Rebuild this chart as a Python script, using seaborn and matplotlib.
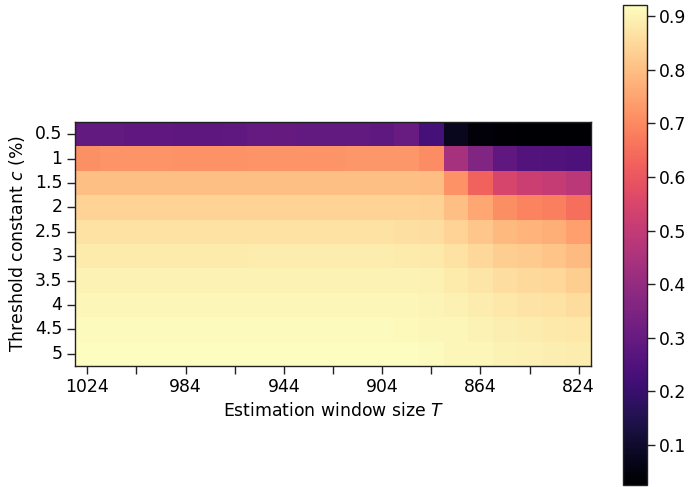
import numpy as np
import pandas as pd
import matplotlib
matplotlib.use("Agg")
import matplotlib.pyplot as plt
import seaborn as sns

# Estimation window sizes (columns) and threshold constants (rows)
window_sizes = [1024, 1014, 1004, 994, 984, 974, 964, 954, 944, 934, 924,
                914, 904, 894, 884, 874, 864, 854, 844, 834, 824]
thresholds = ["0.5", "1", "1.5", "2", "2.5", "3", "3.5", "4", "4.5", "5"]

row_c05 = [0.290, 0.288, 0.285, 0.285, 0.280, 0.278, 0.283, 0.292, 0.295, 0.290,
           0.290, 0.290, 0.282, 0.305, 0.225, 0.075, 0.040, 0.030, 0.026, 0.025, 0.025]
row_c10 = [0.712, 0.720, 0.720, 0.720, 0.718, 0.716, 0.718, 0.720, 0.720, 0.720,
           0.720, 0.722, 0.722, 0.722, 0.705, 0.440, 0.355, 0.285, 0.255, 0.250, 0.245]
row_c15 = [0.800, 0.800, 0.800, 0.800, 0.800, 0.800, 0.800, 0.800, 0.800, 0.800,
           0.800, 0.800, 0.800, 0.800, 0.795, 0.715, 0.625, 0.545, 0.515, 0.505, 0.480]
row_c20 = [0.840, 0.840, 0.840, 0.840, 0.840, 0.840, 0.840, 0.840, 0.840, 0.840,
           0.840, 0.840, 0.840, 0.838, 0.835, 0.800, 0.755, 0.710, 0.690, 0.680, 0.650]
row_c25 = [0.865, 0.865, 0.865, 0.865, 0.865, 0.865, 0.865, 0.866, 0.866, 0.866,
           0.866, 0.866, 0.866, 0.864, 0.860, 0.840, 0.815, 0.790, 0.780, 0.770, 0.740]
row_c30 = [0.885, 0.885, 0.885, 0.885, 0.885, 0.885, 0.885, 0.886, 0.886, 0.886,
           0.886, 0.886, 0.886, 0.884, 0.880, 0.868, 0.850, 0.830, 0.822, 0.812, 0.792]
row_c35 = [0.898, 0.898, 0.898, 0.898, 0.898, 0.898, 0.898, 0.899, 0.899, 0.899,
           0.899, 0.899, 0.899, 0.897, 0.893, 0.885, 0.872, 0.860, 0.852, 0.845, 0.830]
row_c40 = [0.908, 0.908, 0.908, 0.908, 0.908, 0.908, 0.908, 0.909, 0.909, 0.909,
           0.909, 0.909, 0.909, 0.907, 0.903, 0.895, 0.888, 0.876, 0.870, 0.866, 0.858]
row_c45 = [0.914, 0.914, 0.914, 0.914, 0.914, 0.914, 0.914, 0.915, 0.915, 0.915,
           0.915, 0.915, 0.915, 0.913, 0.910, 0.905, 0.898, 0.890, 0.886, 0.882, 0.876]
row_c50 = [0.920, 0.920, 0.920, 0.920, 0.920, 0.920, 0.920, 0.920, 0.920, 0.920,
           0.920, 0.920, 0.920, 0.918, 0.915, 0.910, 0.905, 0.899, 0.895, 0.891, 0.886]

rows = [row_c05, row_c10, row_c15, row_c20, row_c25,
        row_c30, row_c35, row_c40, row_c45, row_c50]
df = pd.DataFrame(rows, index=thresholds, columns=window_sizes)

FS = 12.4
plt.rcParams["font.family"] = ["DejaVu Sans"]
plt.rcParams["font.size"] = FS

fig = plt.figure(figsize=(6.9, 4.87), dpi=100)
ax = fig.add_axes([75 / 690, (487 - 366) / 487, 516 / 690, 244 / 487])
cax = fig.add_axes([622.5 / 690, 2 / 487, 24 / 690, 480 / 487])

sns.heatmap(df, ax=ax, cbar_ax=cax, cmap="magma", vmin=0.025, vmax=0.921,
            xticklabels=False, yticklabels=False)

# axes frame
for sp in ax.spines.values():
    sp.set_visible(True)
    sp.set_linewidth(1.0)
    sp.set_color("#222222")

xt = np.arange(0, len(window_sizes), 2) + 0.5
ax.set_xticks(xt)
ax.set_xticklabels([str(window_sizes[i]) if i % 4 == 0 else "" for i in range(0, len(window_sizes), 2)],
                   rotation=0, fontsize=FS)
ax.set_yticks(np.arange(len(thresholds)) + 0.5)
ax.set_yticklabels(thresholds, rotation=0, fontsize=FS, va="center")
ax.tick_params(axis="both", length=5.5, width=1.0, direction="out", color="#222222")

ax.set_xlabel("Estimation window size $T$", fontsize=FS)
ax.set_ylabel("Threshold constant $c$ (%)", fontsize=FS, labelpad=6)

cbar = ax.collections[0].colorbar
cbar.outline.set_visible(True)
cbar.outline.set_linewidth(1.0)
cbar.outline.set_edgecolor("#222222")
cbar.set_ticks([0.1, 0.2, 0.3, 0.4, 0.5, 0.6, 0.7, 0.8, 0.9])
cax.tick_params(labelsize=FS, length=5.5, width=1.0, color="#222222")

fig.savefig("out.png", dpi=100)
